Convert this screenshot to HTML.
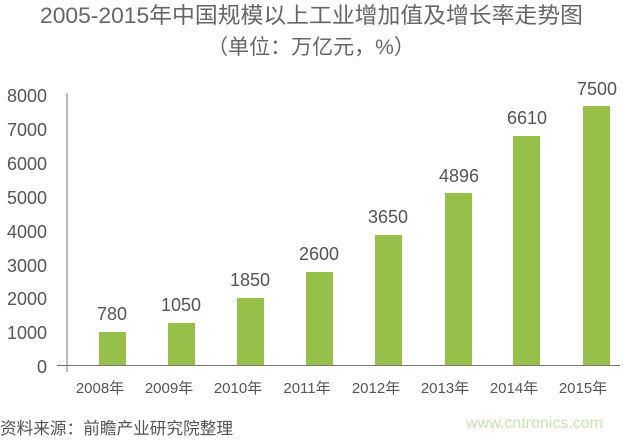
<!DOCTYPE html><html><head><meta charset="utf-8"><style>
body{margin:0;width:623px;height:438px;background:#fff;overflow:hidden}
</style></head><body>
<svg width="623" height="438" xmlns="http://www.w3.org/2000/svg" font-family="Liberation Sans, Noto Sans CJK SC, sans-serif">
<text x="40" y="23" textLength="543" lengthAdjust="spacingAndGlyphs" font-size="22" fill="#666">2005-2015年中国规模以上工业增加值及增长率走势图</text>
<text x="311" y="54" text-anchor="middle" font-size="21" fill="#666">（单位：万亿元，%）</text>
<g font-size="18" fill="#555" text-anchor="end">
<text x="47" y="102">8000</text><text x="47" y="136">7000</text><text x="47" y="170">6000</text><text x="47" y="204">5000</text><text x="47" y="238">4000</text><text x="47" y="272">3000</text><text x="47" y="305">2000</text><text x="47" y="339">1000</text><text x="47" y="373">0</text>
</g>
<line x1="67" y1="93" x2="67" y2="372" stroke="#777" stroke-width="1"/>
<line x1="57" y1="365.5" x2="620" y2="365.5" stroke="#777" stroke-width="1"/>
<g fill="#97c04a">
<rect x="99" y="332" width="27" height="33"/>
<rect x="168" y="323" width="27" height="42"/>
<rect x="237" y="298" width="27" height="67"/>
<rect x="306" y="272" width="27" height="93"/>
<rect x="375" y="235" width="27" height="130"/>
<rect x="445" y="193" width="27" height="172"/>
<rect x="513" y="136" width="27" height="229"/>
<rect x="583" y="106" width="27" height="259"/>
</g>
<g font-size="18" fill="#555" text-anchor="middle">
<text x="112" y="320">780</text><text x="181" y="311">1050</text><text x="250" y="286">1850</text><text x="319" y="260">2600</text><text x="388" y="223">3650</text><text x="459" y="182">4896</text><text x="527" y="124">6610</text><text x="597" y="95">7500</text>
</g>
<g font-size="15" fill="#555" text-anchor="middle">
<text x="100" y="393">2008年</text><text x="169" y="393">2009年</text><text x="238" y="393">2010年</text><text x="307" y="393">2011年</text><text x="376" y="393">2012年</text><text x="445" y="393">2013年</text><text x="514" y="393">2014年</text><text x="583" y="393">2015年</text>
</g>
<text x="0" y="434" textLength="233" lengthAdjust="spacingAndGlyphs" font-size="16.5" fill="#555">资料来源：前瞻产业研究院整理</text>
<text x="603" y="428" text-anchor="end" font-size="16" fill="#c8e3b0">www.cntronics.com</text>
</svg>
</body></html>
